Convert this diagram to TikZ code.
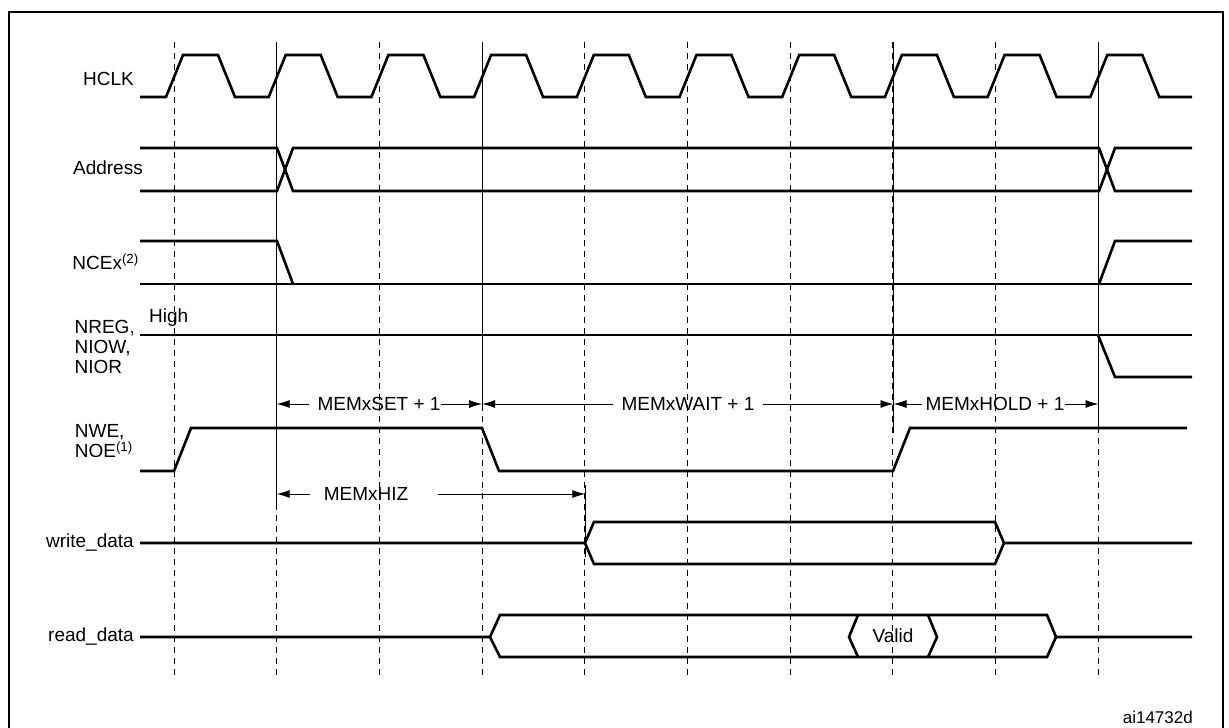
\documentclass[tikz,border=0pt]{standalone}
\usepackage{fontspec}
\setmainfont{Liberation Sans}
\usetikzlibrary{arrows.meta}
\begin{document}
\begin{tikzpicture}[x=1pt,y=-1pt,
  sig/.style={line width=2.6pt,line join=miter},
  grid/.style={line width=0.9pt,dash pattern=on 6pt off 5pt},
  ref/.style={line width=0.9pt},
  dim/.style={line width=0.9pt,-{Latex[length=13pt,width=8pt]}},
  lbl/.style={font=\fontsize{19}{21}\selectfont,inner sep=0pt},
  rlbl/.style={lbl,anchor=east,align=left}]
\useasboundingbox (0,0) rectangle (1229,728);
\draw[line width=2pt] (9,740) -- (9,12) -- (1223,12) -- (1223,740);
% grid lines
\foreach \i in {0,...,9}{
  \draw[grid] ({174+102.7*\i},42) -- ({174+102.7*\i},678);}
\draw[ref] (276.7,42) -- (276.7,504);
\draw[ref] (482.1,42) -- (482.1,410);
\draw[ref] (893.5,42) -- (893.5,433);
\draw[ref] (1098.5,42) -- (1098.5,433);
\draw[ref] (585.3,485) -- (585.3,557);
% HCLK
\node[rlbl] (lh) at (134,79) {HCLK};
\draw[sig] (140,97) \foreach \i in {0,...,9}{
  -- ({166+102.7*\i},97) -- ({183+102.7*\i},55) -- ({218+102.7*\i},55) -- ({235+102.7*\i},97)} -- (1192,97);
% Address
\node[rlbl] (la) at (143,168) {Address};
\draw[sig] (140,148) -- (277,148) -- (293,191) -- (1099,191) -- (1115,148) -- (1192,148);
\draw[sig] (140,191) -- (277,191) -- (293,148) -- (1099,148) -- (1115,191) -- (1192,191);
% NCEx
\node[rlbl] (ln) at (139,262) {NCEx\textsuperscript{(2)}};
\draw[sig] (140,241) -- (277,241) -- (293,284);
\draw[sig] (140,284) -- (1192,284);
\draw[sig] (1099,284) -- (1115,241) -- (1192,241);
% NREG
\node[rlbl] (lr) at (135,347) {NREG,\\[-1pt]NIOW,\\[-1pt]NIOR};
\node[lbl,anchor=south west] (hi) at (149,327) {High};
\draw[sig] (140,335) -- (1192,335);
\draw[sig] (1098,335) -- (1115,377) -- (1192,377);
% NWE
\node[rlbl] (lw) at (133,441) {NWE,\\[-1pt]NOE\textsuperscript{(1)}};
\draw[sig] (140,471) -- (174,471) -- (191,428) -- (482,428) -- (499,471) -- (893,471) -- (910,428) -- (1187,428);
% dimension arrows
\node[lbl] (t1) at (379,404) {MEMxSET + 1};
\draw[dim] (t1.west) ++(-8,0) -- (276.7,404);
\draw[dim] (t1.east) -- (482.1,404);
\node[lbl] (t2) at (688,404) {MEMxWAIT + 1};
\draw[dim] (t2.west) ++(-8,0) -- (482.1,404);
\draw[dim] (t2.east) ++(8,0) -- (893.5,404);
\node[lbl] (t3) at (995,404) {MEMxHOLD + 1};
\draw[dim] (t3.west) ++(-3,0) -- (893.5,404);
\draw[dim] (t3.east) -- (1098.5,404);
\node[lbl] (t4) at (366,494) {MEMxHIZ};
\draw[dim] (t4.west) ++(-14,0) -- (276.7,494);
\draw[dim] (t4.east) ++(30,0) -- (585.3,494);
% write_data
\node[rlbl] (lwd) at (134,542) {write\_data};
\draw[sig] (140,543) -- (585,543) -- (594,522) -- (995,522) -- (1004,543) -- (1192,543);
\draw[sig] (585,543) -- (594,564) -- (995,564) -- (1004,543);
% read_data
\node[rlbl] (lrd) at (134,636) {read\_data};
\draw[sig] (140,637) -- (490,637) -- (500,615) -- (1047,615) -- (1056,637) -- (1192,637);
\draw[sig] (490,637) -- (500,657) -- (1047,657) -- (1056,637);
\draw[sig] (858,615) -- (849,637) -- (858,657);
\draw[sig] (928,615) -- (937,637) -- (928,657);
\node[lbl] (v) at (893,636) {Valid};
\node[lbl,anchor=east,font=\fontsize{17}{19}\selectfont] (id) at (1193,717) {ai14732d};
\end{tikzpicture}
\end{document}
